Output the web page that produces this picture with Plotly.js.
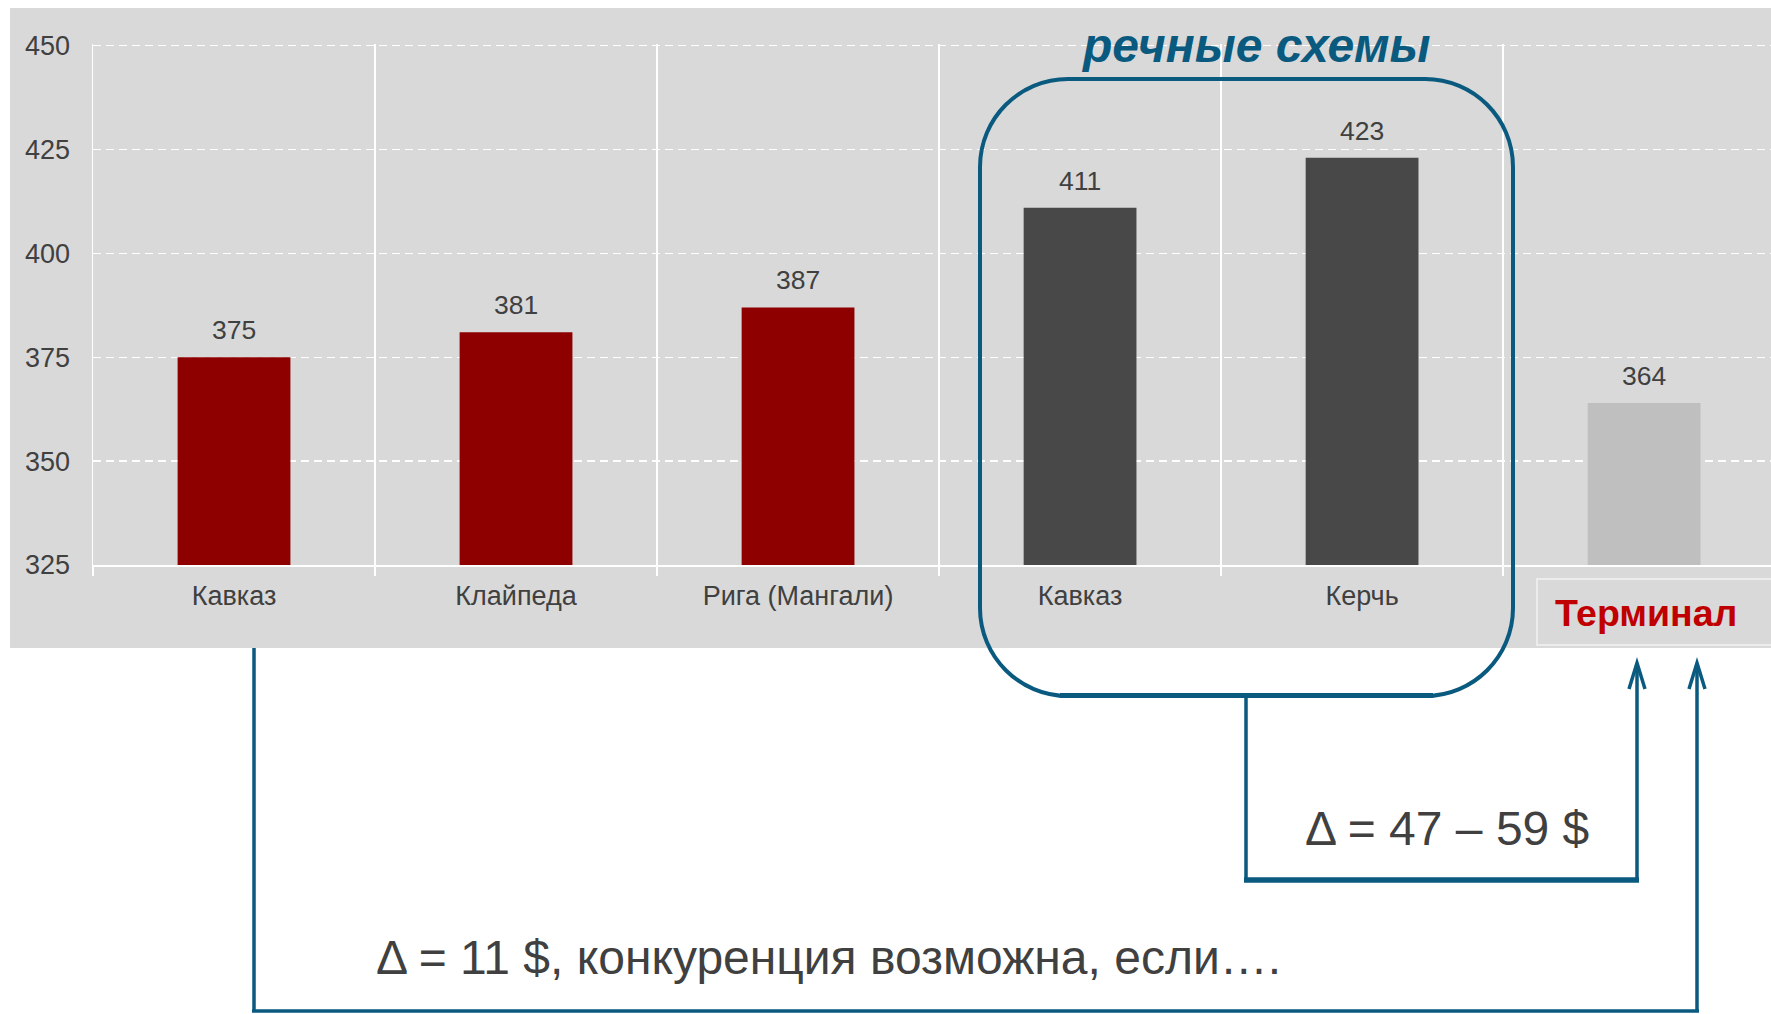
<!DOCTYPE html>
<html>
<head>
<meta charset="utf-8">
<script src="https://cdn.plot.ly/plotly-3.0.1.min.js"></script>
<style>html,body{margin:0;padding:0;background:#fff;overflow:hidden}#chart{width:1771px;height:1014px}</style>
</head>
<body>
<div id="chart"></div>
<script>
// ---- data ----
var categories = ['Кавказ (море)', 'Клайпеда', 'Рига (Мангали)', 'Кавказ (река)', 'Керчь', 'Терминал'];
var tickLabels = ['Кавказ', 'Клайпеда', 'Рига (Мангали)', 'Кавказ', 'Керчь', ''];
var values = [375, 381, 387, 411, 423, 364];
var barColors = ['#8e0000', '#8e0000', '#8e0000', '#484848', '#484848', '#bfbfbf'];
var groupTitle = 'речные схемы';
var terminalLabel = 'Терминал';
var deltaRiver = 'Δ = 47 – 59 $';
var deltaSea = 'Δ = 11 $, конкуренция возможна, если….';

// ---- layout helpers (pixel -> paper) ----
var L = 93, T = 44, W = 1678, H = 521;
function px(x) { return (x - L) / W; }
function py(y) { return (T + H - y) / H; }
var FONT = 'Liberation Sans, Arial, sans-serif';
var BLUE = '#0a5a80';
var TXT = '#404040';

function roundRect(x0, y0, x1, y1, r) {
  var k = r * 0.448;
  return 'M ' + px(x0 + r) + ',' + py(y0) +
    ' L ' + px(x1 - r) + ',' + py(y0) +
    ' C ' + px(x1 - k) + ',' + py(y0) + ' ' + px(x1) + ',' + py(y0 + k) + ' ' + px(x1) + ',' + py(y0 + r) +
    ' L ' + px(x1) + ',' + py(y1 - r) +
    ' C ' + px(x1) + ',' + py(y1 - k) + ' ' + px(x1 - k) + ',' + py(y1) + ' ' + px(x1 - r) + ',' + py(y1) +
    ' L ' + px(x0 + r) + ',' + py(y1) +
    ' C ' + px(x0 + k) + ',' + py(y1) + ' ' + px(x0) + ',' + py(y1 - k) + ' ' + px(x0) + ',' + py(y1 - r) +
    ' L ' + px(x0) + ',' + py(y0 + r) +
    ' C ' + px(x0) + ',' + py(y0 + k) + ' ' + px(x0 + k) + ',' + py(y0) + ' ' + px(x0 + r) + ',' + py(y0) + ' Z';
}
function seg(x0, y0, x1, y1, w) {
  return {type: 'line', xref: 'paper', yref: 'paper', x0: px(x0), y0: py(y0), x1: px(x1), y1: py(y1),
          line: {color: BLUE, width: w}};
}
function chevron(x, y) {
  return {type: 'path', xref: 'paper', yref: 'paper',
          path: 'M ' + px(x - 8) + ',' + py(y + 26) + ' L ' + px(x) + ',' + py(y) + ' L ' + px(x + 8) + ',' + py(y + 26),
          line: {color: BLUE, width: 3.5}};
}

var trace = {
  type: 'bar',
  x: categories,
  y: values,
  marker: {color: barColors, line: {width: 0}},
  hoverinfo: 'skip',
  showlegend: false
};

var annotations = values.map(function (v, i) {
  return {x: categories[i], y: v, xref: 'x', yref: 'y', text: String(v), showarrow: false,
          yanchor: 'bottom', yshift: 10, font: {family: FONT, size: 26.5, color: TXT}};
});
annotations.push(
  {xref: 'paper', yref: 'paper', x: px(1256), y: py(45), text: '<b><i>' + groupTitle + '</i></b>', showarrow: false,
   xanchor: 'center', yanchor: 'middle', font: {family: FONT, size: 48, color: BLUE}},
  {xref: 'paper', yref: 'paper', x: px(1646), y: py(613), text: '<b>' + terminalLabel + '</b>', showarrow: false,
   xanchor: 'center', yanchor: 'middle', font: {family: FONT, size: 37.5, color: '#c00000'}},
  {xref: 'paper', yref: 'paper', x: px(1303), y: py(828), text: deltaRiver, showarrow: false,
   xanchor: 'left', yanchor: 'middle', font: {family: FONT, size: 48, color: TXT}},
  {xref: 'paper', yref: 'paper', x: px(374), y: py(958), text: deltaSea, showarrow: false,
   xanchor: 'left', yanchor: 'middle', font: {family: FONT, size: 48, color: TXT}}
);

var shapes = [
  {type: 'rect', xref: 'paper', yref: 'paper', layer: 'below', x0: px(10), x1: px(1790), y0: py(648), y1: py(8),
   fillcolor: '#d9d9d9', line: {width: 0}},
  {type: 'rect', xref: 'paper', yref: 'paper', layer: 'below', x0: px(1537), x1: px(1790), y0: py(645), y1: py(579),
   fillcolor: 'rgba(0,0,0,0)', line: {color: '#ececec', width: 2}},
  {type: 'path', xref: 'paper', yref: 'paper', path: roundRect(980, 79, 1513, 696, 88),
   line: {color: BLUE, width: 4}},
  seg(1060, 695.5, 1433, 695.5, 5),
  // river connector
  seg(1246, 696, 1246, 880, 3.5),
  seg(1244, 880, 1639, 880, 5.5),
  seg(1637, 882, 1637, 664, 3.5),
  chevron(1637, 663),
  // sea connector
  seg(254, 648, 254, 1012, 3.5),
  seg(252, 1011, 1699, 1011, 3.5),
  seg(1697, 1012, 1697, 664, 3.5),
  chevron(1697, 663)
];

var layout = {
  width: 1771, height: 1014,
  margin: {l: L, r: 1771 - L - W, t: T, b: 1014 - T - H, pad: 0},
  paper_bgcolor: '#ffffff',
  plot_bgcolor: 'rgba(0,0,0,0)',
  bargap: 0.6,
  showlegend: false,
  font: {family: FONT, color: TXT},
  xaxis: {
    type: 'category', range: [-0.5, 5.45],
    tickmode: 'array', tickvals: categories, ticktext: tickLabels,
    tickson: 'boundaries', ticks: 'outside', ticklen: 9, tickwidth: 1.5, tickcolor: '#ffffff',
    showgrid: true, gridcolor: '#ffffff', gridwidth: 1.5,
    showline: true, linecolor: '#ffffff', linewidth: 2,
    tickfont: {family: FONT, size: 27, color: TXT}, ticklabelstandoff: 6,
    fixedrange: true
  },
  yaxis: {
    range: [325, 450.4], tickmode: 'linear', tick0: 325, dtick: 25,
    showgrid: true, gridcolor: '#ffffff', gridwidth: 1.5, griddash: '8px,5px',
    showline: true, linecolor: '#ffffff', linewidth: 1.5,
    zeroline: false, ticks: '', ticklabelstandoff: 16,
    tickfont: {family: FONT, size: 27, color: TXT},
    fixedrange: true
  },
  annotations: annotations,
  shapes: shapes
};

Plotly.newPlot('chart', [trace], layout, {displayModeBar: false, staticPlot: true});
</script>
</body>
</html>
